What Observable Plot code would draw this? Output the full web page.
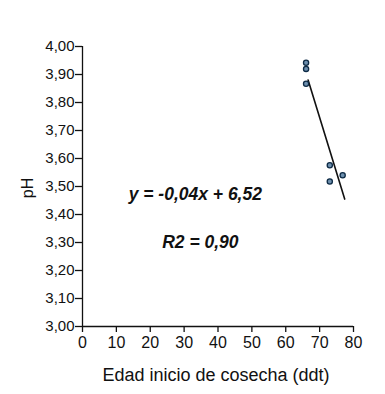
<!DOCTYPE html>
<html><head><meta charset="utf-8">
<script src="https://cdn.jsdelivr.net/npm/d3@7"></script>
<script src="https://cdn.jsdelivr.net/npm/@observablehq/plot@0.6"></script>
<style>body{margin:0;background:#fff;} svg{display:block;}</style>
</head><body><div id="chart"></div>
<script>
const edad = [66, 66, 66, 73, 73, 76.8];
const ph = [3.942, 3.920, 3.867, 3.576, 3.518, 3.540];
const lineX = [66.6, 77.4];
const lineY = [3.88, 3.455];
const xTicks = [0, 10, 20, 30, 40, 50, 60, 70, 80];
const yTicks = [3.0, 3.1, 3.2, 3.3, 3.4, 3.5, 3.6, 3.7, 3.8, 3.9, 4.0];
const labels = ["y = -0,04x + 6,52", "R2 = 0,90"];
const labelX = [33.3, 34.8];
const labelY = [3.471, 3.30];
const xTitle = "Edad inicio de cosecha (ddt)";
const yTitle = "pH";

const pts = edad.map((x, i) => ({x, y: ph[i]}));
const ln = lineX.map((x, i) => ({x, y: lineY[i]}));
const txt = labels.map((t, i) => ({t, x: labelX[i], y: labelY[i]}));
const fmt = v => v.toFixed(2).replace(".", ",");

const chart = Plot.plot({
  width: 385, height: 394,
  marginLeft: 82, marginRight: 32, marginTop: 46, marginBottom: 68,
  style: {fontFamily: "Liberation Sans, Arial, sans-serif", fontSize: "14px", color: "#111", background: "#fff"},
  x: {domain: [0, 80], label: null},
  y: {domain: [3, 4], label: null},
  marks: [
    Plot.ruleX([0], {stroke: "#111", strokeWidth: 1.3}),
    Plot.ruleY([3], {stroke: "#111", strokeWidth: 1.3}),
    Plot.axisX({ticks: xTicks, tickSize: 6, tickPadding: 4, fontSize: 16, stroke: "#111", strokeWidth: 1.3, label: null}),
    Plot.axisY({ticks: yTicks, tickSize: 7, tickPadding: 1, tickFormat: fmt, fontSize: 15, stroke: "#111", strokeWidth: 1.3, label: null}),
    Plot.line(ln, {x: "x", y: "y", stroke: "#111", strokeWidth: 1.6}),
    Plot.dot(pts, {x: "x", y: "y", r: 2.6, fill: "#6d8fae", stroke: "#0d2a45", strokeWidth: 1.3}),
    Plot.text(txt, {x: "x", y: "y", text: "t", fontSize: 17.5, fontWeight: "bold", fontStyle: "italic", fill: "#111"})
  ]
});
document.getElementById("chart").appendChild(chart);

const svg = d3.select(chart);
svg.append("text").attr("x", 216).attr("y", 381).attr("text-anchor", "middle")
  .attr("font-size", 18).attr("fill", "#111").text(xTitle);
svg.append("text").attr("transform", "translate(33,188) rotate(-90)").attr("text-anchor", "middle")
  .attr("font-size", 16).attr("fill", "#111").text(yTitle);
</script></body></html>
